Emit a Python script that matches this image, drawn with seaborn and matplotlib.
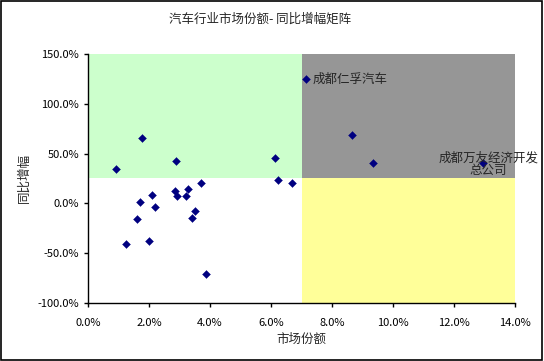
import matplotlib
matplotlib.use("Agg")
import matplotlib.pyplot as plt
from matplotlib.patches import Rectangle
from matplotlib.ticker import FuncFormatter
import seaborn as sns
import pandas as pd

# market share (%) and YoY growth (%)
share = [0.91, 1.78, 2.90, 6.14, 6.23, 6.69, 7.14, 3.70, 2.09, 2.84, 2.92, 3.27,
         3.21, 1.71, 2.20, 3.52, 3.40, 1.62, 2.00, 1.26, 3.87, 8.65, 9.34, 12.94]
growth = [34.3, 65.7, 43.0, 45.7, 23.7, 20.7, 125.0, 20.0, 8.3, 12.3, 7.7, 14.3,
          7.3, 1.0, -3.7, -7.7, -15.0, -16.0, -37.7, -41.0, -71.0, 68.3, 40.7, 40.7]
names = [""] * 6 + ["成都仁孚汽车"] + [""] * 16 + ["成都万友经济开发\n总公司"]

x_split, y_split = 7.0, 25.0
x_range = (0.0, 14.0)
y_range = (-100.0, 150.0)

df = pd.DataFrame({"share": share, "growth": growth, "name": names})

sns.set_style("white")
plt.rcParams["font.family"] = ["Noto Sans CJK SC", "DejaVu Sans"]

fig = plt.figure(figsize=(5.44, 3.61), dpi=100)
ax = fig.add_axes([0.1618, 0.1607, 0.785, 0.6898])

# quadrant backgrounds
ax.add_patch(Rectangle((x_range[0], y_split), x_split - x_range[0], y_range[1] - y_split,
                       facecolor="#CCFFCC", edgecolor="none", zorder=0))
ax.add_patch(Rectangle((x_split, y_split), x_range[1] - x_split, y_range[1] - y_split,
                       facecolor="#969696", edgecolor="none", zorder=0))
ax.add_patch(Rectangle((x_split, y_range[0]), x_range[1] - x_split, y_split - y_range[0],
                       facecolor="#FFFF99", edgecolor="none", zorder=0))

sns.scatterplot(data=df, x="share", y="growth", marker="D", s=16, color="#000080",
                edgecolor="#000080", ax=ax, zorder=3)

for _, r in df[df["name"] != ""].iterrows():
    if "\n" in r["name"]:
        ax.annotate(r["name"], (r["share"], r["growth"]), xytext=(4, -1),
                    textcoords="offset points", ha="center", va="center",
                    fontsize=9, linespacing=1.0, annotation_clip=False)
    else:
        ax.annotate(r["name"], (r["share"], r["growth"]), xytext=(5, 0),
                    textcoords="offset points", ha="left", va="center", fontsize=9)

ax.set_xlim(*x_range)
ax.set_ylim(*y_range)
ax.set_xticks([0, 2, 4, 6, 8, 10, 12, 14])
ax.set_yticks([-100, -50, 0, 50, 100, 150])
ax.xaxis.set_major_formatter(FuncFormatter(lambda v, p: f"{v:.1f}%"))
ax.yaxis.set_major_formatter(FuncFormatter(lambda v, p: f"{v:.1f}%"))
ax.tick_params(axis="both", labelsize=8, length=3, width=1, direction="out",
               colors="black", left=True, bottom=True)
ax.tick_params(axis="x", pad=8)
for s in ["top", "right"]:
    ax.spines[s].set_visible(False)
for s in ["left", "bottom"]:
    ax.spines[s].set_color("black")
    ax.spines[s].set_linewidth(1)

ax.set_xlabel("市场份额", fontsize=9, labelpad=3)
ax.set_ylabel("同比增幅", fontsize=9, labelpad=5)
fig.suptitle("汽车行业市场份额- 同比增幅矩阵", x=0.478, fontsize=9, y=0.965)

fig.patches.append(Rectangle((0.002, 0.003), 0.995, 0.994, transform=fig.transFigure,
                             fill=False, edgecolor="black", linewidth=1.2))

fig.savefig("out.png", dpi=100)
